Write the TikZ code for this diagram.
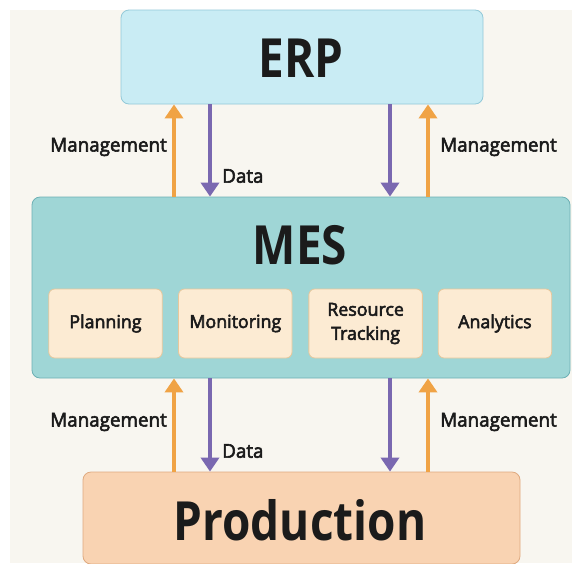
\documentclass[tikz,border=0pt]{standalone}
\usepackage{fontspec}
\setmainfont{Open Sans}
\newfontfamily\titlefont[FakeStretch=0.85]{Open Sans}
\newfontfamily\lblfont[FakeStretch=0.99,FakeBold=3]{Open Sans}
\usetikzlibrary{arrows.meta,positioning}
\definecolor{bgcream}{HTML}{F8F6F0}
\definecolor{erpfill}{HTML}{C9ECF4}
\definecolor{erpline}{HTML}{93C9D8}
\definecolor{mesfill}{HTML}{9FD6D6}
\definecolor{mesline}{HTML}{6DB0B4}
\definecolor{subfill}{HTML}{FCEBD3}
\definecolor{subline}{HTML}{E6C79C}
\definecolor{prodfill}{HTML}{F9D3B2}
\definecolor{prodline}{HTML}{DFA97F}
\definecolor{mgmtcol}{HTML}{F0A345}
\definecolor{datacol}{HTML}{7A68B0}
\definecolor{txt}{HTML}{1B1B1B}
\tikzset{
  bigbox/.style={rounded corners=8pt, line width=0.8pt, inner sep=0pt},
  title/.style={font=\titlefont\bfseries\fontsize{54}{56}\selectfont, text=txt},
  subbox/.style={draw=subline, fill=subfill, rounded corners=6pt, line width=0.8pt,
    minimum width=113.5pt, minimum height=69pt, inner sep=0pt, align=center,
    font=\lblfont\fontsize{18}{24}\selectfont, text=txt},
  mgmt/.style={draw=mgmtcol, line width=4pt, -{Triangle[width=18pt,length=14pt]}},
  data/.style={draw=datacol, line width=4pt, -{Triangle[width=18pt,length=14pt]}},
  lbl/.style={font=\lblfont\fontsize{19}{20}\selectfont, text=txt, inner sep=0pt}
}
\begin{document}
\begin{tikzpicture}[x=1pt, y=-1pt]
 % background and margins
 \fill[white] (0,0) rectangle (577,563);
 \fill[bgcream] (10,10) rectangle (572,563);
 \useasboundingbox (0,0) rectangle (577,563);
 % the three layers
 \node[bigbox, draw=erpline, fill=erpfill, minimum width=362pt, minimum height=94pt] (erp) at (302,57) {};
 \node[title] (erpt) at (301,58) {ERP};
 \node[bigbox, draw=mesline, fill=mesfill, minimum width=538pt, minimum height=181pt] (mes) at (301,287.5) {};
 \node[title] (mest) at (300,245) {MES};
 \node[bigbox, draw=prodline, fill=prodfill, minimum width=437pt, minimum height=92pt] (prod) at (301.5,518) {};
 \node[title] (prodt) at (300,520) {Production};
 % MES modules
 \node[subbox] (plan) at (105.5,323.5) {Planning};
 \node[subbox, right=15.5pt of plan] (mon) {Monitoring};
 \node[subbox, right=16pt of mon] (res) {Resource\\Tracking};
 \node[subbox, right=15pt of res] (ana) {Analytics};
 % connectors ERP <-> MES
 \draw[mgmt] (mes.north -| 174,0) -- (erp.south -| 174,0);
 \draw[data] (erp.south -| 210,0) -- (mes.north -| 210,0);
 \draw[data] (erp.south -| 390,0) -- (mes.north -| 390,0);
 \draw[mgmt] (mes.north -| 428,0) -- (erp.south -| 428,0);
 % connectors MES <-> Production
 \draw[mgmt] (prod.north -| 174,0) -- (mes.south -| 174,0);
 \draw[data] (mes.south -| 210,0) -- (prod.north -| 210,0);
 \draw[data] (mes.south -| 390,0) -- (prod.north -| 390,0);
 \draw[mgmt] (prod.north -| 428,0) -- (mes.south -| 428,0);
 % labels
 \node[lbl, anchor=east] (m1) at (167,147) {Management};
 \node[lbl, anchor=west] (d1) at (222,176) {Data};
 \node[lbl, anchor=west] (m2) at (440,147) {Management};
 \node[lbl, anchor=east] (m3) at (167,422) {Management};
 \node[lbl, anchor=west] (d2) at (222,451) {Data};
 \node[lbl, anchor=west] (m4) at (440,422) {Management};
\end{tikzpicture}
\end{document}
